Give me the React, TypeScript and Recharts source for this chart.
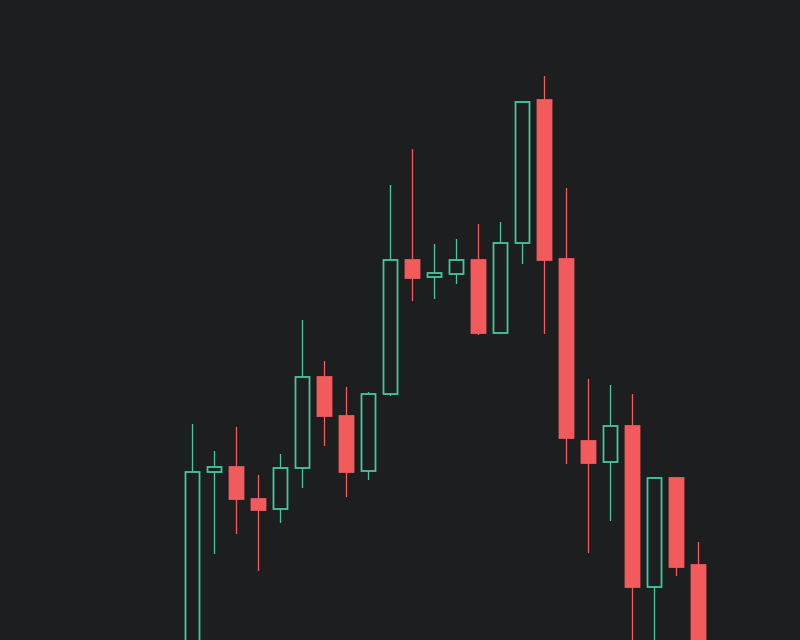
import React from 'react';
import { BarChart, Bar, XAxis, YAxis } from 'recharts';

const BG = '#1c1e20';
const UP = '#45c79e';
const DOWN = '#f25a5c';

const dates = ['03-01', '03-02', '03-03', '03-04', '03-05', '03-08', '03-09', '03-10', '03-11', '03-12', '03-15', '03-16',
    '03-17', '03-18', '03-19', '03-22', '03-23', '03-24', '03-25', '03-26', '03-29', '03-30', '03-31', '04-01'];
const opens = [32.0, 52.8, 53.3, 50.1, 49.1, 53.2, 62.3, 58.4, 52.9, 60.6, 74.0, 72.3,
    72.6, 74.0, 66.7, 75.7, 90.0, 74.1, 55.9, 53.8, 57.4, 41.3, 52.2, 43.5];
const highs = [57.6, 54.9, 57.3, 52.5, 54.6, 68.0, 63.9, 61.3, 60.8, 81.5, 85.1, 75.6,
    76.1, 77.6, 77.8, 89.9, 92.4, 81.2, 62.1, 61.5, 60.6, 52.3, 52.3, 45.8];
const lows = [30.0, 44.6, 46.6, 42.9, 47.7, 51.2, 55.4, 50.3, 52.0, 60.4, 69.9, 70.1,
    71.6, 66.5, 66.6, 73.6, 66.6, 53.6, 44.7, 47.9, 34.0, 34.0, 42.4, 31.0];
const closes = [52.8, 53.3, 50.1, 49.0, 53.2, 62.3, 58.4, 52.8, 60.6, 74.0, 72.2, 72.7,
    74.0, 66.7, 75.7, 89.8, 74.0, 56.2, 53.7, 57.4, 41.3, 52.2, 43.3, 33.0];

const data = dates.map((date, i) => ({
    date,
    open: opens[i],
    high: highs[i],
    low: lows[i],
    close: closes[i],
    range: [lows[i], highs[i]],
}));

// bar spans low..high, so open/close pixels come from the same scale ratio
const Candle = (props: any) => {
    const { x, y, width, height, payload } = props;
    const { open, close, high, low } = payload;
    const top = Math.min(y, y + height);
    const h = Math.abs(height);
    const perUnit = h / (high - low || 1);
    const cx = x + width / 2;
    const up = close >= open;
    const color = up ? UP : DOWN;
    const bodyTop = top + (high - Math.max(open, close)) * perUnit;
    const bodyBottom = top + (high - Math.min(open, close)) * perUnit;
    return (
        <g>
            <line x1={cx} x2={cx} y1={top} y2={top + h} stroke={color} strokeWidth={1.3} />
            <rect x={cx - 7} y={bodyTop} width={14} height={Math.max(bodyBottom - bodyTop, 1)}
                fill={up ? BG : DOWN} stroke={color} strokeWidth={1.8} />
        </g>
    );
};

export default function App() {
    return (
        <div style={{ position: 'absolute', left: 0, top: 0, width: 800, height: 640, background: BG }}>
            <BarChart width={800} height={640} data={data} margin={{ top: 0, right: 91, left: 181, bottom: 0 }}>
                <XAxis dataKey="date" hide />
                <YAxis hide domain={[36, 100]} allowDataOverflow />
                <Bar dataKey="range" barSize={15} shape={<Candle />} isAnimationActive={false} />
            </BarChart>
        </div>
    );
}
